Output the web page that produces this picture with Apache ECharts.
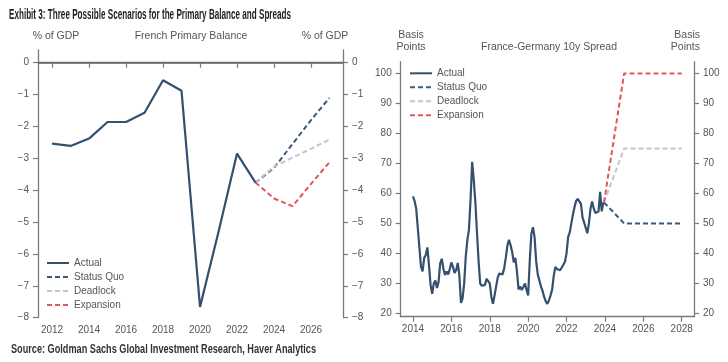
<!DOCTYPE html>
<html><head><meta charset="utf-8">
<script src="https://cdn.jsdelivr.net/npm/echarts@6/dist/echarts.min.js"></script>
<style>html,body{margin:0;padding:0;background:#fff}#c{width:728px;height:362px}</style>
</head><body><div id="c"></div><script>
// ---- Left: French primary balance (% of GDP) ----
const fpbYears = [2012, 2013, 2014, 2015, 2016, 2017, 2018, 2019, 2020, 2021, 2022, 2023];
const fpbActual = [-2.54, -2.61, -2.38, -1.86, -1.86, -1.57, -0.55, -0.88, -7.66, -5.3, -2.85, -3.76];
const fpbScenYears = [2023, 2024, 2025, 2026, 2027];
const fpbStatusQuo = [-3.76, -3.3, -2.55, -1.8, -1.1];
const fpbDeadlock = [-3.76, -3.26, -2.98, -2.7, -2.41];
const fpbExpansion = [-3.76, -4.26, -4.5, -3.8, -3.12];
const fpbXTicks = [2012, 2014, 2016, 2018, 2020, 2022, 2024, 2026];
const fpbYTicks = [0, -1, -2, -3, -4, -5, -6, -7, -8];

// ---- Right: France-Germany 10y spread (bp), monthly from Jan 2014 ----
const spreadStart = 2014;
const spreadMonthly = [
  59, 57.5, 55, 48.5, 42, 35.6, 34, 38.5, 39.5, 42, 36, 29.5,
  26.5, 30, 31, 28.5, 30.5, 36.7, 38.2, 35, 32.8, 34, 33, 34.8,
  37, 35.5, 33.5, 34.5, 36.8, 32.6, 23.5, 25, 30, 39, 44.5, 48,
  58, 70.5, 64.5, 57, 47, 37.5, 30, 29.2, 28.6, 29.5, 31.5, 32,
  30, 25.5, 23.2, 26, 29, 32, 33.3, 33.6, 33, 35, 38.5, 42.5,
  44.5, 42.8, 40.5, 37, 38.5, 34, 28, 29, 27.8, 28.8, 30, 27.8,
  26, 37.5, 46.5, 48.7, 45.5, 37.5, 33, 31, 29, 27.5, 25.5, 24,
  23.2, 24.3, 26, 28, 32.5, 35.5, 34.8, 34.4, 34.4, 35, 36.2, 37.2,
  40, 45.5, 47, 50, 53, 55.5, 57.5, 58.2, 58, 56.5, 52, 50.3,
  48.5, 46.7, 50, 55, 57.3, 55, 53.5, 53.3, 54, 60.5, 54, 57
];
const spreadScenX = [2023.95, 2025, 2028];
const spreadStatusQuo = [57, 50, 50];
const spreadDeadlock = [57, 75, 75];
const spreadExpansion = [57, 100, 100];
const spreadXTicks = [2014, 2016, 2018, 2020, 2022, 2024, 2026, 2028];
const spreadYTicks = [20, 30, 40, 50, 60, 70, 80, 90, 100];

const names = ['Actual', 'Status Quo', 'Deadlock', 'Expansion'];
const colors = {Actual: '#34506f', 'Status Quo': '#3b5880', Deadlock: '#c4c4cc', Expansion: '#e0575a'};

const zip = (xs, ys) => xs.map((x, i) => [x, ys[i]]);
const spreadActual = spreadMonthly.map((v, i) => [spreadStart + i / 12, v]);

const FONT = '"Liberation Sans", Arial, sans-serif';
const labelStyle = {color: '#555', fontSize: 10, fontFamily: FONT};
const axisLine = {show: true, lineStyle: {color: '#7a7a7a', width: 1.3}};
const axisTick = (vals) => ({show: true, inside: false, length: 5, customValues: vals, lineStyle: {color: '#7a7a7a', width: 1.2}});
const minus = v => String(v).replace('-', '\u2212');

function mkX(grid, min, max, ticks) {
  return {type: 'value', gridIndex: grid, min, max, axisLine,
    axisTick: axisTick(ticks),
    axisLabel: Object.assign({customValues: ticks, margin: 8, formatter: v => String(v)}, labelStyle),
    splitLine: {show: false}};
}
function mkY(grid, min, max, ticks, pos) {
  return {type: 'value', gridIndex: grid, min, max, position: pos, axisLine,
    axisTick: axisTick(ticks),
    axisLabel: Object.assign({customValues: ticks, margin: 9, formatter: v => minus(v)}, labelStyle),
    splitLine: {show: false}};
}
function line(name, data, xi, yi, dashed, extra) {
  return Object.assign({
    name, type: 'line', xAxisIndex: xi, yAxisIndex: yi, data, symbol: 'none', showSymbol: false,
    silent: true, animation: false,
    lineStyle: {color: colors[name], width: dashed ? 2 : 2.2, type: dashed ? [5, 3] : 'solid'},
    itemStyle: {color: colors[name]}, z: dashed ? 3 : 4
  }, extra || {});
}

const chart = echarts.init(document.getElementById('c'), null, {renderer: 'canvas'});

const ctx = document.createElement('canvas').getContext('2d');
function fitScale(text, font, w) { ctx.font = font; return w / ctx.measureText(text).width; }
const titleText = 'Exhibit 3: Three Possible Scenarios for the Primary Balance and Spreads';
const titleFont = 'bold 14.5px "Liberation Sans Narrow", "Liberation Sans", Arial, sans-serif';
const srcText = 'Source: Goldman Sachs Global Investment Research, Haver Analytics';
const srcFont = '600 12px "Liberation Sans Narrow", "Liberation Sans", Arial, sans-serif';

const axTitle = {fill: '#555', font: '10.5px ' + FONT};
const legendBase = {data: names, orient: 'vertical', itemWidth: 22, itemHeight: 8, itemGap: 2, padding: 0,
  selectedMode: false, itemStyle: {opacity: 0, borderWidth: 0},
  textStyle: {color: '#555', fontSize: 10, fontFamily: FONT, lineHeight: 12}};

chart.setOption({
  animation: false,
  backgroundColor: '#fff',
  grid: [
    {left: 38, top: 50, width: 305, height: 267.7},
    {left: 400.7, top: 61.7, width: 293.3, height: 255}
  ],
  xAxis: [mkX(0, 2011.24, 2027.73, fpbXTicks), mkX(1, 2013.36, 2028.64, spreadXTicks)],
  yAxis: [
    mkY(0, -8, 0.4, fpbYTicks, 'left'), mkY(0, -8, 0.4, fpbYTicks, 'right'),
    mkY(1, 18.9, 103.9, spreadYTicks, 'left'), mkY(1, 18.9, 103.9, spreadYTicks, 'right')
  ],
  legend: [
    Object.assign({left: 46, top: 257}, legendBase),
    Object.assign({left: 409, top: 67.3}, legendBase)
  ],
  series: [
    line('Actual', zip(fpbYears, fpbActual), 0, 0, false, {
      markLine: {silent: true, symbol: 'none', animation: false, label: {show: false},
        lineStyle: {color: '#666', width: 1.5, type: 'solid'}, data: [{yAxis: 0}]}
    }),
    line('Status Quo', zip(fpbScenYears, fpbStatusQuo), 0, 0, true),
    line('Deadlock', zip(fpbScenYears, fpbDeadlock), 0, 0, true),
    line('Expansion', zip(fpbScenYears, fpbExpansion), 0, 0, true),
    line('Actual', spreadActual, 1, 2, false),
    line('Status Quo', zip(spreadScenX, spreadStatusQuo), 1, 2, true),
    line('Deadlock', zip(spreadScenX, spreadDeadlock), 1, 2, true),
    line('Expansion', zip(spreadScenX, spreadExpansion), 1, 2, true)
  ],
  graphic: [
    {type: 'text', left: 9, top: 7, scaleX: fitScale(titleText, titleFont, 282),
      style: {text: titleText, fill: '#1e1e1e', font: titleFont}},
    {type: 'text', left: 11, top: 344, scaleX: fitScale(srcText, srcFont, 305),
      style: {text: srcText, fill: '#333', font: srcFont}},
    {type: 'text', x: 56, y: 36, style: Object.assign({text: '% of GDP', align: 'center', verticalAlign: 'middle'}, axTitle)},
    {type: 'text', x: 191, y: 36, style: Object.assign({text: 'French Primary Balance', align: 'center', verticalAlign: 'middle'}, axTitle)},
    {type: 'text', x: 325, y: 36, style: Object.assign({text: '% of GDP', align: 'center', verticalAlign: 'middle'}, axTitle)},
    {type: 'text', x: 411, y: 41.5, style: Object.assign({text: 'Basis\nPoints', align: 'center', verticalAlign: 'middle', lineHeight: 12}, axTitle)},
    {type: 'text', x: 549, y: 47, style: Object.assign({text: 'France-Germany 10y Spread', align: 'center', verticalAlign: 'middle'}, axTitle)},
    {type: 'text', x: 700, y: 41.5, style: Object.assign({text: 'Basis\nPoints', align: 'right', verticalAlign: 'middle', lineHeight: 12}, axTitle)}
  ]
});
</script></body></html>
